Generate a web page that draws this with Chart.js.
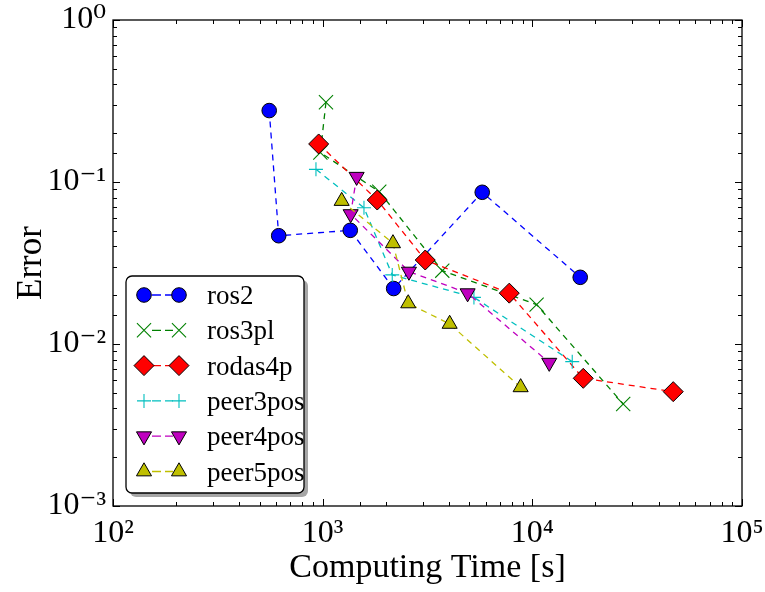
<!DOCTYPE html>
<html lang="en">
<head>
<meta charset="UTF-8">
<title>Error vs computing time</title>
<script src="https://cdn.jsdelivr.net/npm/chart.js"></script>
<style>
  body{margin:0;background:#fff;}
  #wrap{width:765px;height:592px;}
</style>
</head>
<body>
<div id="wrap"><canvas id="chart"></canvas></div>
<script>
// values (log-log)
const seriesNames = ['ros2', 'ros3pl', 'rodas4p', 'peer3pos', 'peer4pos', 'peer5pos'];

const ros2Time  = [556, 617, 1354, 2181, 5768, 16920];
const ros2Error = [0.276, 0.0466, 0.0503, 0.0220, 0.0864, 0.0258];

const ros3plTime  = [1037, 975, 1862, 3719, 10480, 27130];
const ros3plError = [0.3105, 0.152, 0.0871, 0.02835, 0.0175, 0.00426];

const rodas4pTime  = [957, 1821, 3085, 7762, 17490, 46990];
const rodas4pError = [0.1717, 0.0774, 0.0330, 0.0206, 0.00614, 0.00508];

const peer3posTime  = [929, 1574, 2147, 5266, 15500];
const peer3posError = [0.1197, 0.0694, 0.0267, 0.0194, 0.00778];

const peer4posTime  = [1452, 1360, 2579, 4913, 12040];
const peer4posError = [0.1078, 0.0634, 0.0280, 0.0206, 0.00767];

const peer5posTime  = [1232, 2164, 2559, 4033, 8796];
const peer5posError = [0.0763, 0.0418, 0.0178, 0.0133, 0.0054];

const xDecades = [100, 1000, 10000, 100000];
const xTickLabels = ['10²', '10³', '10⁴', '10⁵'];
const yDecades = [0.001, 0.01, 0.1, 1];
const yTickLabels = ['10⁻³', '10⁻²', '10⁻¹', '10⁰'];

const seriesTimes  = [ros2Time, ros3plTime, rodas4pTime, peer3posTime, peer4posTime, peer5posTime];
const seriesErrors = [ros2Error, ros3plError, rodas4pError, peer3posError, peer4posError, peer5posError];

// marker styles (matplotlib classic look)
const styles = [
  { color: '#0000ff', pointStyle: 'circle',   radius: 7.3, rotation: 0,   edge: '#000', edgeWidth: 1 },
  { color: '#008000', pointStyle: 'crossRot', radius: 10,  rotation: 0,   edge: null,   edgeWidth: 1.1 },
  { color: '#ff0000', pointStyle: 'rectRot',  radius: 10,  rotation: 0,   edge: '#000', edgeWidth: 1 },
  { color: '#00bfbf', pointStyle: 'cross',    radius: 7,   rotation: 0,   edge: null,   edgeWidth: 1.1 },
  { color: '#bf00bf', pointStyle: 'triangle', radius: 8.7, rotation: 180, edge: '#000', edgeWidth: 1 },
  { color: '#bfbf00', pointStyle: 'triangle', radius: 8.7, rotation: 0,   edge: '#000', edgeWidth: 1 }
];
const dash = [6, 5];
const FONT = "'Liberation Serif', 'DejaVu Serif', serif";

function decadeLabel(v, decades, labels) {
  const i = decades.findIndex(d => Math.abs(v / d - 1) < 1e-6);
  return i >= 0 ? labels[i] : '';
}
function isDecade(v) {
  const l = Math.log10(v);
  return Math.abs(l - Math.round(l)) < 1e-6;
}

const datasets = seriesNames.map((name, i) => {
  const s = styles[i];
  return {
    label: name,
    data: seriesTimes[i].map((t, k) => ({ x: t, y: seriesErrors[i][k] })),
    showLine: true,
    borderColor: s.color,
    borderWidth: 1.3,
    borderDash: dash,
    backgroundColor: s.color,
    pointStyle: s.pointStyle,
    pointRadius: s.radius,
    pointHoverRadius: s.radius,
    pointRotation: s.rotation,
    pointBackgroundColor: s.color,
    pointBorderColor: s.edge || s.color,
    pointBorderWidth: s.edgeWidth,
    order: seriesNames.length - i
  };
});

const innerTicks = {
  id: 'innerTicks',
  afterDatasetsDraw(chart) {
    const { ctx, chartArea: a, scales } = chart;
    ctx.save();
    ctx.strokeStyle = '#000';
    ctx.lineWidth = 1;
    ctx.beginPath();
    scales.x.ticks.forEach(t => {
      const p = Math.round(scales.x.getPixelForValue(t.value)) + 0.5;
      const len = isDecade(t.value) ? 7 : 4;
      ctx.moveTo(p, a.bottom); ctx.lineTo(p, a.bottom - len);
      ctx.moveTo(p, a.top); ctx.lineTo(p, a.top + len);
    });
    scales.y.ticks.forEach(t => {
      const p = Math.round(scales.y.getPixelForValue(t.value)) + 0.5;
      const len = isDecade(t.value) ? 7 : 4;
      ctx.moveTo(a.left, p); ctx.lineTo(a.left + len, p);
      ctx.moveTo(a.right, p); ctx.lineTo(a.right - len, p);
    });
    ctx.stroke();
    ctx.lineWidth = 1.3;
    ctx.strokeRect(a.left, a.top, a.right - a.left, a.bottom - a.top);
    ctx.restore();
  }
};

function roundRect(ctx, x, y, w, h, r) {
  ctx.beginPath();
  ctx.moveTo(x + r, y);
  ctx.arcTo(x + w, y, x + w, y + h, r);
  ctx.arcTo(x + w, y + h, x, y + h, r);
  ctx.arcTo(x, y + h, x, y, r);
  ctx.arcTo(x, y, x + w, y, r);
  ctx.closePath();
}

const boxLegend = {
  id: 'boxLegend',
  afterDraw(chart) {
    const { ctx, chartArea: a } = chart;
    const bw = 178, bh = 217;
    const bx = a.left + 13, by = a.bottom - 13 - bh;
    ctx.save();
    ctx.fillStyle = 'rgba(0,0,0,0.35)';
    roundRect(ctx, bx + 4, by + 4, bw, bh, 6);
    ctx.fill();
    ctx.fillStyle = '#fff';
    ctx.strokeStyle = '#000';
    ctx.lineWidth = 1.3;
    roundRect(ctx, bx, by, bw, bh, 6);
    ctx.fill();
    ctx.stroke();

    chart.data.datasets.forEach((ds, i) => {
      const s = styles[i];
      const cy = by + 19 + i * 35.3;
      const x1 = bx + 18, x2 = bx + 53;
      ctx.strokeStyle = s.color;
      ctx.lineWidth = 1.3;
      ctx.setLineDash([]);
      ctx.beginPath();
      ctx.moveTo(x1 + 8, cy); ctx.lineTo(x1 + 17, cy);
      ctx.moveTo(x2 - 14, cy); ctx.lineTo(x2 - 6, cy);
      ctx.stroke();
      [x1, x2].forEach(px => {
        ctx.fillStyle = s.color;
        ctx.strokeStyle = s.edge || s.color;
        ctx.lineWidth = s.edgeWidth;
        Chart.helpers.drawPoint(ctx, {
          pointStyle: s.pointStyle, radius: s.radius, rotation: s.rotation, borderWidth: s.edgeWidth
        }, px, cy);
      });
      ctx.fillStyle = '#000';
      ctx.font = '27px ' + FONT;
      ctx.textBaseline = 'alphabetic';
      ctx.textAlign = 'left';
      ctx.fillText(ds.label, bx + 81, cy + 9);
    });
    ctx.restore();
  }
};

new Chart(document.getElementById('chart'), {
  type: 'scatter',
  data: { datasets },
  options: {
    responsive: true,
    maintainAspectRatio: false,
    animation: false,
    layout: { padding: { top: 20, right: 23, left: 0, bottom: 0 } },
    plugins: {
      legend: { display: false },
      tooltip: { enabled: false }
    },
    scales: {
      x: {
        type: 'logarithmic',
        min: 100,
        max: 100000,
        grid: { display: false, drawTicks: false },
        border: { display: false },
        ticks: {
          autoSkip: false,
          maxRotation: 0,
          padding: 8,
          color: '#000',
          font: { family: FONT, size: 32 },
          callback: v => decadeLabel(v, xDecades, xTickLabels)
        },
        title: {
          display: true,
          text: 'Computing Time [s]',
          color: '#000',
          font: { family: FONT, size: 34 },
          padding: { top: 0, bottom: 4 }
        },
        afterFit: s => { s.height = 86; s.paddingLeft = 0; s.paddingRight = 0; }
      },
      y: {
        type: 'logarithmic',
        min: 0.001,
        max: 1,
        grid: { display: false, drawTicks: false },
        border: { display: false },
        ticks: {
          autoSkip: false,
          padding: 7,
          color: '#000',
          font: { family: FONT, size: 32 },
          callback: v => decadeLabel(v, yDecades, yTickLabels)
        },
        title: {
          display: true,
          text: 'Error',
          color: '#000',
          font: { family: FONT, size: 35 },
          padding: { top: 11, bottom: 0 }
        },
        afterFit: s => { s.width = 113; s.paddingTop = 0; s.paddingBottom = 0; }
      }
    }
  },
  plugins: [innerTicks, boxLegend]
});
</script>
</body>
</html>
